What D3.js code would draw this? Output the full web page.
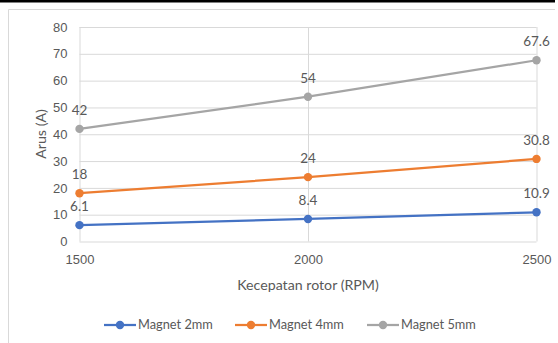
<!DOCTYPE html>
<html>
<head>
<meta charset="utf-8">
<script src="https://cdn.jsdelivr.net/npm/d3@7"></script>
<style>
  html, body { margin: 0; padding: 0; background: #fff; }
  svg { display: block; font-family: Lato, "Open Sans", sans-serif; }
</style>
</head>
<body>
<svg id="chart" width="558" height="343"></svg>
<script>
// Current (A) against rotor speed (RPM) for three magnet thicknesses
const speeds = [1500, 2000, 2500];
const magnet2mm = [6.1, 8.4, 10.9];
const magnet4mm = [18, 24, 30.8];
const magnet5mm = [42, 54, 67.6];
const seriesNames = ["Magnet 2mm", "Magnet 4mm", "Magnet 5mm"];
const seriesColors = ["#4472C4", "#ED7D31", "#A5A5A5"];
const yTicks = [0, 10, 20, 30, 40, 50, 60, 70, 80];
const xTicks = [1500, 2000, 2500];

const series = [magnet2mm, magnet4mm, magnet5mm].map((vals, i) => ({
  name: seriesNames[i],
  color: seriesColors[i],
  points: vals.map((v, j) => ({ x: speeds[j], y: v }))
}));

const svg = d3.select("#chart");
const textColor = "#595959";
const gridColor = "#D9D9D9";

// frame
svg.append("rect").attr("x", 0).attr("y", 0).attr("width", 555).attr("height", 2.5).attr("fill", "#000");
svg.append("line").attr("x1", 8.5).attr("x2", 555).attr("y1", 9.5).attr("y2", 9.5)
  .attr("stroke", gridColor).attr("stroke-width", 1);
svg.append("line").attr("x1", 8.5).attr("x2", 8.5).attr("y1", 9.5).attr("y2", 343)
  .attr("stroke", gridColor).attr("stroke-width", 1);

const x = d3.scaleLinear().domain([1500, 2500]).range([79.5, 536.5]);
const y = d3.scaleLinear().domain([0, 80]).range([241.5, 27]);

// horizontal gridlines + y labels
const yAxis = d3.axisLeft(y).tickValues(yTicks).tickSize(-(x.range()[1] - x.range()[0])).tickPadding(12);
const gy = svg.append("g").attr("transform", `translate(${x.range()[0]},0)`).call(yAxis);
gy.select(".domain").remove();
gy.selectAll(".tick line").attr("stroke", gridColor);
gy.selectAll(".tick text").attr("fill", textColor).attr("font-size", 13).attr("font-family", null);

// vertical gridlines + x labels
const xAxis = d3.axisBottom(x).tickValues(xTicks).tickFormat(d3.format("d"))
  .tickSize(-(y.range()[0] - y.range()[1])).tickPadding(13);
const gx = svg.append("g").attr("transform", `translate(0,${y.range()[0]})`).call(xAxis);
gx.select(".domain").remove();
gx.selectAll(".tick line").attr("stroke", gridColor);
gx.selectAll(".tick text").attr("fill", textColor).attr("font-size", 13).attr("font-family", null);

// axis titles
svg.append("text").attr("x", 308).attr("y", 290).attr("text-anchor", "middle")
  .attr("fill", textColor).attr("font-size", 14.2).text("Kecepatan rotor (RPM)");
svg.append("text").attr("transform", "translate(46,134) rotate(-90)").attr("text-anchor", "middle")
  .attr("fill", textColor).attr("font-size", 14.2).text("Arus (A)");

// lines, markers, data labels
const line = d3.line().x(d => x(d.x)).y(d => y(d.y));
series.forEach(s => {
  const g = svg.append("g");
  g.append("path").datum(s.points).attr("d", line).attr("fill", "none")
    .attr("stroke", s.color).attr("stroke-width", 2.25).attr("stroke-linecap", "round");
  g.selectAll("circle").data(s.points).join("circle")
    .attr("cx", d => x(d.x)).attr("cy", d => y(d.y)).attr("r", 4.2).attr("fill", s.color);
  g.selectAll("text").data(s.points).join("text")
    .attr("x", d => x(d.x)).attr("y", d => y(d.y) - 14).attr("text-anchor", "middle")
    .attr("fill", textColor).attr("font-size", 13.5).text(d => d.y);
});

// legend
const legendX = [104, 235, 367];
const legend = svg.append("g");
series.forEach((s, i) => {
  const lg = legend.append("g").attr("transform", `translate(${legendX[i]},325)`);
  lg.append("line").attr("x1", 0).attr("x2", 32).attr("stroke", s.color).attr("stroke-width", 2.25);
  lg.append("circle").attr("cx", 16).attr("r", 4.2).attr("fill", s.color);
  lg.append("text").attr("x", 34).attr("dy", "0.35em").attr("fill", textColor)
    .attr("font-size", 12.8).text(s.name);
});
</script>
</body>
</html>
